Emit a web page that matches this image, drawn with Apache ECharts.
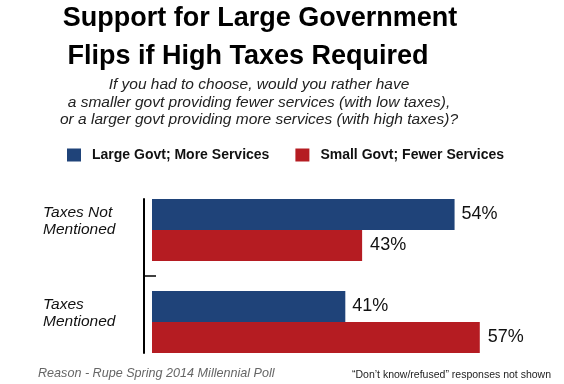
<!DOCTYPE html>
<html>
<head>
<meta charset="utf-8">
<script src="https://cdn.jsdelivr.net/npm/echarts@6/dist/echarts.min.js"></script>
<style>html,body{margin:0;padding:0;background:#fff;}#c{width:564px;height:384px;}</style>
</head>
<body>
<div id="c"></div>
<script>
const categories = ['Taxes Not\nMentioned', 'Taxes\nMentioned'];
const seriesNames = ['Large Govt; More Services', 'Small Govt; Fewer Services'];
const largeGovt = [54, 41];
const smallGovt = [43, 57];
const titleLines = ['Support for Large Government', 'Flips if High Taxes Required'];
const subtitle = 'If you had to choose, would you rather have\na smaller govt providing fewer services (with low taxes),\nor a larger govt providing more services (with high taxes)?';
const sourceText = 'Reason - Rupe Spring 2014 Millennial Poll';
const noteText = '\u201cDon\u2019t know/refused\u201d responses not shown';

const FONT = 'Liberation Sans';
const BLUE = '#1f4379';
const RED = '#b51c22';

const chart = echarts.init(document.getElementById('c'), null, {renderer: 'canvas'});
chart.setOption({
  backgroundColor: '#fff',
  animation: false,
  title: [
    {text: titleLines[0], left: 260, top: 5, textAlign: 'center', padding: 0,
     textStyle: {fontFamily: FONT, fontWeight: 'bold', fontSize: 27, color: '#000'}},
    {text: titleLines[1], left: 248, top: 43, textAlign: 'center', padding: 0,
     textStyle: {fontFamily: FONT, fontWeight: 'bold', fontSize: 27, color: '#000'}},
    {text: subtitle, left: 259, top: 76, textAlign: 'center', padding: 0,
     textStyle: {fontFamily: FONT, fontStyle: 'italic', fontWeight: 'normal', fontSize: 15.5, lineHeight: 17.5, color: '#222'}},
    {text: sourceText, left: 38, top: 367, padding: 0,
     textStyle: {fontFamily: FONT, fontStyle: 'italic', fontWeight: 'normal', fontSize: 12.6, color: '#666'}},
    {text: noteText, left: 352, top: 370, padding: 0,
     textStyle: {fontFamily: FONT, fontWeight: 'normal', fontSize: 10.5, color: '#222'}}
  ],
  legend: {
    left: 67, top: 148, padding: 0,
    itemWidth: 14, itemHeight: 13, itemGap: 26,
    icon: 'rect',
    data: seriesNames,
    textStyle: {fontFamily: FONT, fontWeight: 'bold', fontSize: 14, color: '#111', padding: [0, 0, 0, 6]}
  },
  grid: [
    {left: 152, right: 59, top: 184, bottom: 16},
    {left: 144, width: 12, top: 199, bottom: 31}
  ],
  xAxis: [
    {type: 'value', gridIndex: 0, min: 18, max: 60, show: false},
    {type: 'value', gridIndex: 1, min: 0, max: 1, show: false}
  ],
  yAxis: [
    {type: 'category', gridIndex: 0, inverse: true, data: categories,
     axisLine: {show: false}, axisTick: {show: false},
     axisLabel: {align: 'left', margin: 109, fontFamily: FONT, fontStyle: 'italic', fontSize: 15.5,
                 lineHeight: 17, color: '#111', formatter: function (v) { return v + '\n '; }}},
    {type: 'value', gridIndex: 1, min: 0, max: 2, interval: 1,
     axisLine: {show: true, onZero: false, lineStyle: {color: '#000', width: 2}},
     axisTick: {show: false}, axisLabel: {show: false},
     splitLine: {show: true, showMinLine: false, showMaxLine: false, lineStyle: {color: '#000', width: 1.5}}}
  ],
  series: [
    {name: seriesNames[0], type: 'bar', xAxisIndex: 0, yAxisIndex: 0, data: largeGovt,
     barWidth: 31, barGap: '0%', itemStyle: {color: BLUE},
     label: {show: true, position: 'right', distance: 7, formatter: '{c}%',
             fontFamily: FONT, fontSize: 18, color: '#111'}},
    {name: seriesNames[1], type: 'bar', xAxisIndex: 0, yAxisIndex: 0, data: smallGovt,
     barWidth: 31, barGap: '0%', itemStyle: {color: RED},
     label: {show: true, position: 'right', distance: 8, formatter: '{c}%',
             fontFamily: FONT, fontSize: 18, color: '#111'}}
  ]
});
</script>
</body>
</html>
